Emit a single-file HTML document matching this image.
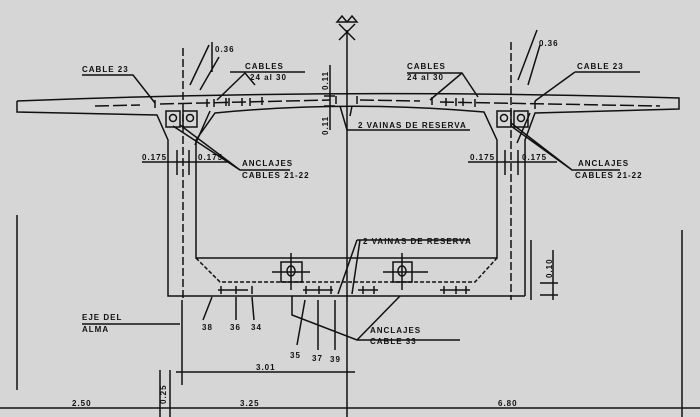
<!DOCTYPE html>
<html><head><meta charset="utf-8"><style>
html,body{margin:0;padding:0;background:#d6d6d6;}
svg{display:block;}
text{font-family:"Liberation Sans",sans-serif;font-weight:bold;fill:#111;font-size:8px;letter-spacing:1px;}
</style></head><body>
<svg width="700" height="417" viewBox="0 0 700 417" xmlns="http://www.w3.org/2000/svg">
<rect width="700" height="417" fill="#d6d6d6"/>
<g stroke="#111" stroke-width="1.5" fill="none">
<path d="M17,101 Q347,88 679,98 L679,109 L535,113 L525,140 L525,296"/>
<path d="M17,101 L17,112 L157,115 L168,140 L168,296 L525,296"/>
<path d="M196,140 L215,113 Q347,100 484,112 L497,140 L497,258 L196,258 Z"/>
<path d="M196,258 L220,282 L475,282 L497,258" stroke-dasharray="4,2"/>
<line x1="347" y1="30" x2="347" y2="417"/>
<path d="M337,22 L342,16 L347,22 Z M347,22 L352,16 L357,22 Z M339,40 L355,24 M339,24 L355,40"/>
<line x1="183" y1="48" x2="183" y2="300" stroke-dasharray="8,3"/>
<line x1="511" y1="42" x2="511" y2="300" stroke-dasharray="8,3"/>
<path d="M95,106 L140,105 M160,104 L330,100 M360,100 L420,101 M440,102 L660,106" stroke-dasharray="14,4"/>
<!-- cable crosses -->
<path d="M155,100 v8 M207,99 v8 M214,99 v8 M226,98 v8 M229,98 v8 M242,98 v8 M250,98 v8 M262,97 v8 M336,96 v8 M357,96 v8 M432,97 v8 M446,98 v8 M456,98 v8 M463,98 v8 M475,99 v8 M535,101 v8"/>
<path d="M218,290 h30 M221,286 v8 M236,286 v8 M252,286 v8 M303,290 h30 M306,286 v8 M319,286 v8 M331,286 v8 M358,290 h20 M363,286 v8 M374,286 v8 M440,290 h30 M444,286 v8 M456,286 v8 M466,286 v8"/>
<rect x="166" y="111" width="14" height="16"/><rect x="183" y="111" width="14" height="16"/>
<circle cx="173" cy="118" r="3.5"/><circle cx="190" cy="118" r="3.5"/>
<rect x="497" y="111" width="14" height="16"/><rect x="514" y="111" width="14" height="16"/>
<circle cx="504" cy="118" r="3.5"/><circle cx="521" cy="118" r="3.5"/>
<rect x="281" y="262" width="21" height="20"/><rect x="393" y="262" width="19" height="20"/>
<ellipse cx="291" cy="271" rx="4" ry="5"/><ellipse cx="402" cy="271" rx="4" ry="5"/>
<path d="M272,272 L310,272 M291,253 L291,290 M383,272 L428,272 M402,253 L402,290"/>
<path d="M82,75 L133,75 L155,103 M230,72 L305,72 M245,73 L217,100 M245,73 L255,85 M209,45 L190,85 M219,57 L200,90 M212,42 L212,72"/>
<path d="M180,125 L240,170 M173,126 L240,170 L290,170 M210,111 L195,145"/>
<path d="M407,73 L462,73 L478,97 M462,73 L430,100 M575,72 L640,72 M575,72 L535,101 M537,30 L518,80 M540,45 L528,85"/>
<path d="M511,123 L572,170 L620,170 M511,126 L572,170 M530,113 L517,143"/>
<path d="M340,106 L347,130 L470,130 M352,106 L350,116"/>
<path d="M330,65 L330,130 M324,96 L335,96 M324,106 L335,106"/>
<path d="M142,162 L230,162 M468,162 L557,162 M177,150 L177,175 M189,150 L189,175 M505,150 L505,175 M518,150 L518,175"/>
<path d="M357,240 L470,240 M357,240 L338,294 M360,240 L352,294"/>
<path d="M212,297 L203,320 M236,297 L236,320 M252,297 L254,320 M292,296 L292,315 L357,340 L460,340 M357,340 L400,296 M305,300 L297,345 M318,300 L318,350 M335,300 L335,350"/>
<path d="M82,324 L180,324"/>
<path d="M553,250 L553,300 M540,283 L558,283 M540,295 L558,295"/>
<line x1="0" y1="408" x2="700" y2="408"/>
<line x1="176" y1="372" x2="355" y2="372"/>
<line x1="17" y1="215" x2="17" y2="390"/>
<line x1="160" y1="370" x2="160" y2="417"/>
<line x1="170" y1="370" x2="170" y2="417"/>
<line x1="182" y1="300" x2="182" y2="385"/>
<line x1="682" y1="230" x2="682" y2="417"/>
<line x1="531" y1="240" x2="531" y2="300"/>
</g>
<g>
<text x="82" y="72">CABLE 23</text>
<text x="245" y="69">CABLES</text>
<text x="250" y="80">24 al 30</text>
<text x="215" y="52">0.36</text>
<text x="407" y="69">CABLES</text>
<text x="407" y="80">24 al 30</text>
<text x="539" y="46">0.36</text>
<text x="577" y="69">CABLE 23</text>
<text x="242" y="166">ANCLAJES</text>
<text x="242" y="178">CABLES 21-22</text>
<text x="578" y="166">ANCLAJES</text>
<text x="575" y="178">CABLES 21-22</text>
<text x="142" y="160">0.175</text>
<text x="198" y="160">0.175</text>
<text x="470" y="160">0.175</text>
<text x="522" y="160">0.175</text>
<text x="358" y="128">2 VAINAS DE RESERVA</text>
<text x="363" y="244">2 VAINAS DE RESERVA</text>
<text x="370" y="333">ANCLAJES</text>
<text x="370" y="344">CABLE 33</text>
<text x="82" y="320">EJE DEL</text>
<text x="82" y="332">ALMA</text>
<text x="202" y="330">38</text><text x="230" y="330">36</text><text x="251" y="330">34</text>
<text x="290" y="358">35</text><text x="312" y="361">37</text><text x="330" y="362">39</text>
<text x="256" y="370">3.01</text>
<text x="72" y="406">2.50</text>
<text x="240" y="406">3.25</text>
<text x="498" y="406">6.80</text>
<text transform="translate(328,90) rotate(-90)">0.11</text>
<text transform="translate(328,135) rotate(-90)">0.11</text>
<text transform="translate(552,278) rotate(-90)">0.10</text>
<text transform="translate(166,404) rotate(-90)">0.25</text>
</g>
</svg>
</body></html>
